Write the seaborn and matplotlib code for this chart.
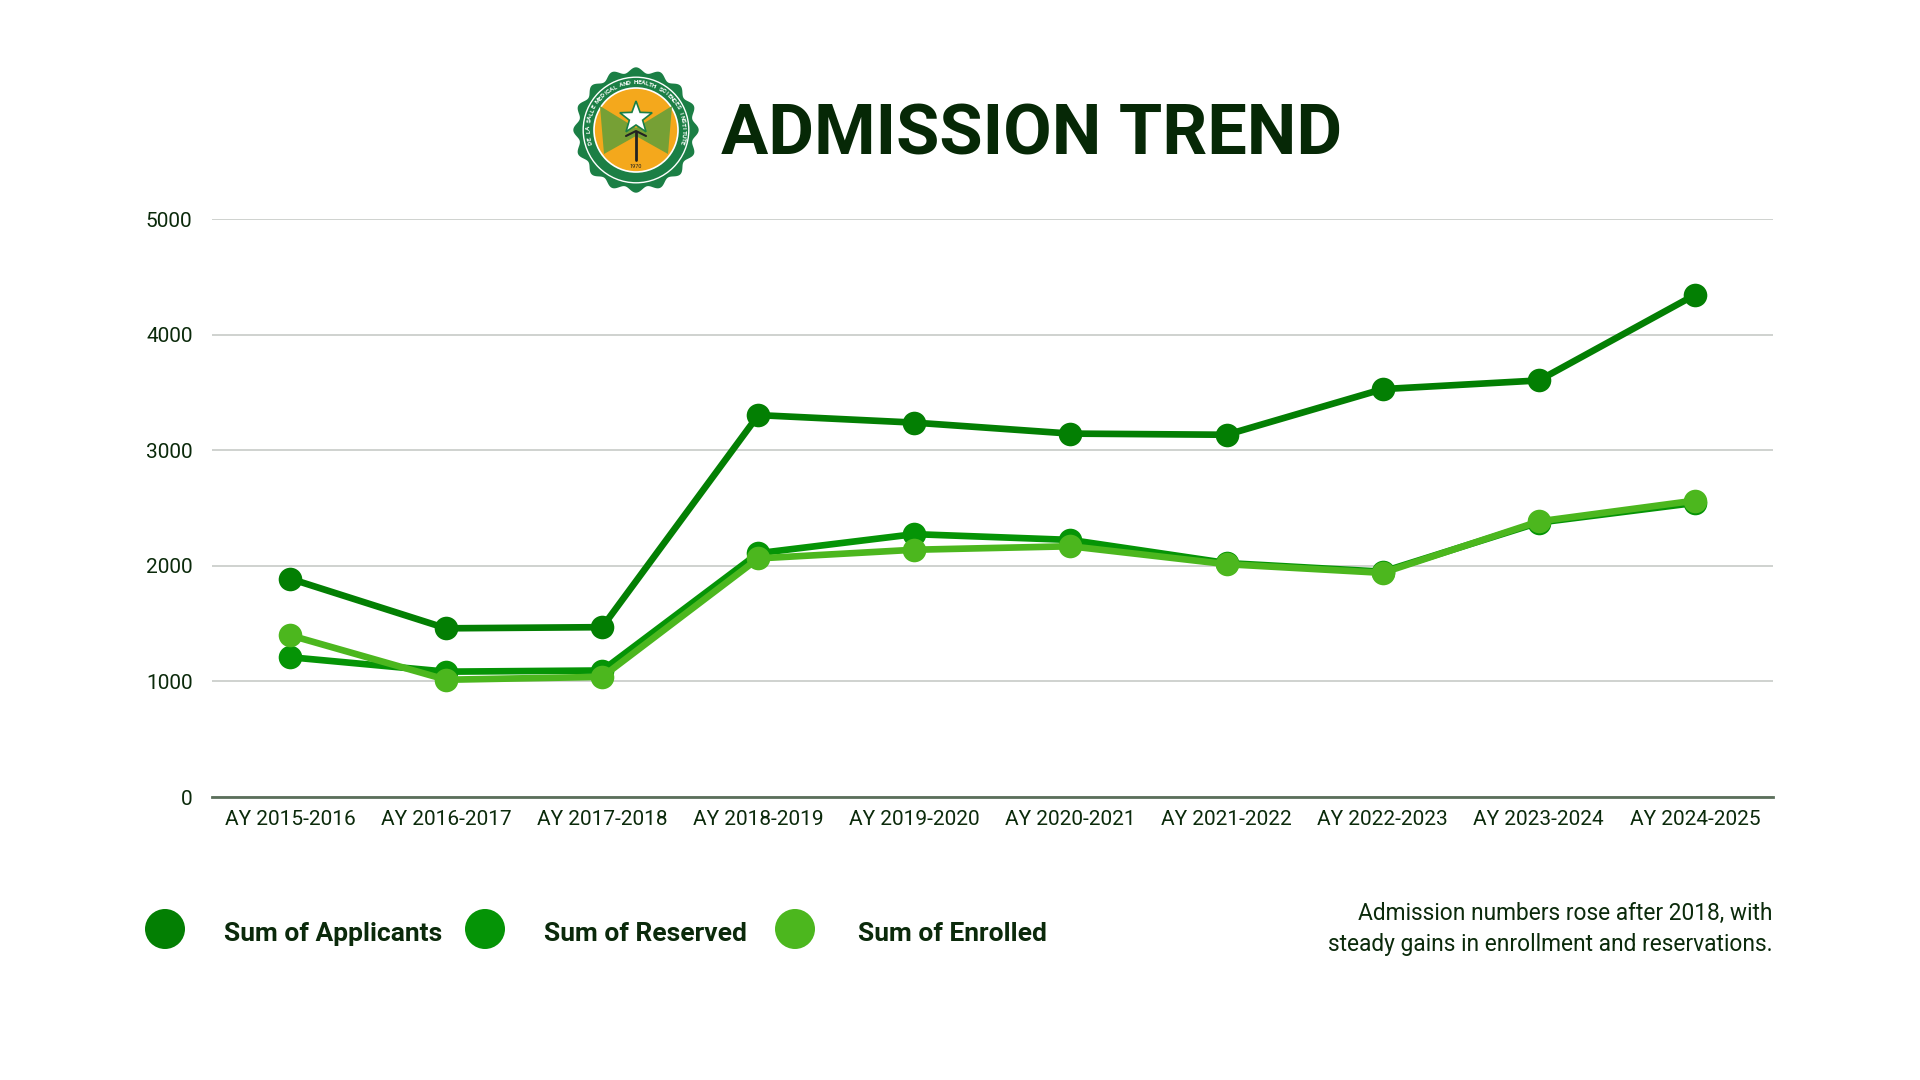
import numpy as np
import pandas as pd
import matplotlib.pyplot as plt
import matplotlib.patches as mpatches
import seaborn as sns

# chart values
years = ['AY 2015-2016', 'AY 2016-2017', 'AY 2017-2018', 'AY 2018-2019', 'AY 2019-2020',
         'AY 2020-2021', 'AY 2021-2022', 'AY 2022-2023', 'AY 2023-2024', 'AY 2024-2025']
applicants = [1890, 1460, 1470, 3305, 3240, 3145, 3135, 3530, 3605, 4345]
reserved = [1210, 1085, 1095, 2110, 2275, 2225, 2025, 1950, 2375, 2545]
enrolled = [1400, 1015, 1040, 2065, 2140, 2170, 2015, 1940, 2385, 2565]
series_names = ['Sum of Applicants', 'Sum of Reserved', 'Sum of Enrolled']
colors = ['#037f03', '#059406', '#4cb71e']
yticks = [0, 1000, 2000, 3000, 4000, 5000]

title = 'ADMISSION TREND'
note = 'Admission numbers rose after 2018, with\nsteady gains in enrollment and reservations.'

df = pd.DataFrame({
    'year': years * 3,
    'value': applicants + reserved + enrolled,
    'series': np.repeat(series_names, len(years)),
})

sns.set_theme(style='white')
plt.rcParams['font.family'] = ['Roboto', 'DejaVu Sans']
text_col = '#0b2a0b'

fig = plt.figure(figsize=(19.2, 10.8), dpi=100)
fig.patch.set_facecolor('white')
ax = fig.add_axes([0.1104, 0.262, 0.813, 0.535])

sns.lineplot(data=df, x='year', y='value', hue='series', palette=colors,
             marker='o', markersize=17, linewidth=4.8, markeredgewidth=0,
             sort=False, legend=False, ax=ax)

ax.set_xlim(-0.5, len(years) - 0.5)
ax.set_ylim(0, 5000)
ax.set_yticks(yticks)
ax.set_xlabel('')
ax.set_ylabel('')
ax.yaxis.grid(True, color='#cfd2cf', lw=1.4)
ax.xaxis.grid(False)
ax.set_axisbelow(True)
for s in ['top', 'right', 'left']:
    ax.spines[s].set_visible(False)
ax.spines['bottom'].set_color('#5b6f5b')
ax.spines['bottom'].set_linewidth(2)
ax.tick_params(axis='y', length=0, pad=14, labelsize=15, labelcolor=text_col)
ax.tick_params(axis='x', length=0, pad=9, labelsize=15, labelcolor=text_col)

# overlay in pixel coordinates for title, logo, legend and note
ov = fig.add_axes([0, 0, 1, 1])
ov.set_xlim(0, 1920)
ov.set_ylim(1080, 0)
ov.axis('off')

# logo (simplified seal)
cx, cy, R = 636, 130, 60
th = np.linspace(0, 2 * np.pi, 400)
rr = R * (1 + 0.045 * np.cos(16 * th))
ov.add_patch(mpatches.Polygon(np.c_[cx + rr * np.cos(th), cy + rr * np.sin(th)],
                              closed=True, fc='#1b7f45', ec='none'))
ov.add_patch(mpatches.Circle((cx, cy), R * 0.88, fc='none', ec='white', lw=1))
ov.add_patch(mpatches.Circle((cx, cy), R * 0.70, fc='#f4a81c', ec='white', lw=1.2))
bow = [(cx - 36, cy - 24), (cx, cy - 2), (cx + 36, cy - 24), (cx + 32, cy + 24),
       (cx, cy + 6), (cx - 32, cy + 24)]
ov.add_patch(mpatches.Polygon(bow, closed=True, fc='#76a035', ec='none'))
ang = np.pi / 2 + np.arange(10) * np.pi / 5
rs = np.where(np.arange(10) % 2 == 0, 17, 7)
sx, sy = cx, cy - 12
ov.add_patch(mpatches.Polygon(np.c_[sx + rs * np.cos(ang), sy - rs * np.sin(ang)],
                              closed=True, fc='white', ec='#1b7f45', lw=1.2))
ov.plot([cx, cx], [cy + 2, cy + 30], color='#222222', lw=2)
ov.plot([cx - 10, cx, cx + 10], [cy + 6, cy + 1, cy + 6], color='#222222', lw=1.5)
ov.text(cx, cy + 37, '1970', ha='center', va='center', fontsize=4, color='#222222')
ring = 'DE LA SALLE MEDICAL AND HEALTH SCIENCES INSTITUTE'
for i, ch in enumerate(ring):
    a = np.deg2rad(165 + i * (210 / (len(ring) - 1)))
    ov.text(cx + R * 0.79 * np.cos(a), cy + R * 0.79 * np.sin(a), ch,
            rotation=-np.rad2deg(a) - 90, ha='center', va='center',
            fontsize=4.6, color='white', fontweight='bold')

ov.text(721, 135, title, ha='left', va='center', fontsize=50.6, fontweight='bold',
        color='#062806')

# legend
leg_x = [165, 485, 795]
lab_x = [224, 544, 858]
for c, name, lx, tx in zip(colors, series_names, leg_x, lab_x):
    ov.add_patch(mpatches.Circle((lx, 929), 20, fc=c, ec='none'))
    ov.text(tx, 934, name, ha='left', va='center', fontsize=19, fontweight='bold',
            color=text_col)

ov.text(1773, 929, note, ha='right', va='center', fontsize=16.4, color=text_col,
        linespacing=1.5)

fig.savefig('out.png', dpi=100, facecolor='white')
